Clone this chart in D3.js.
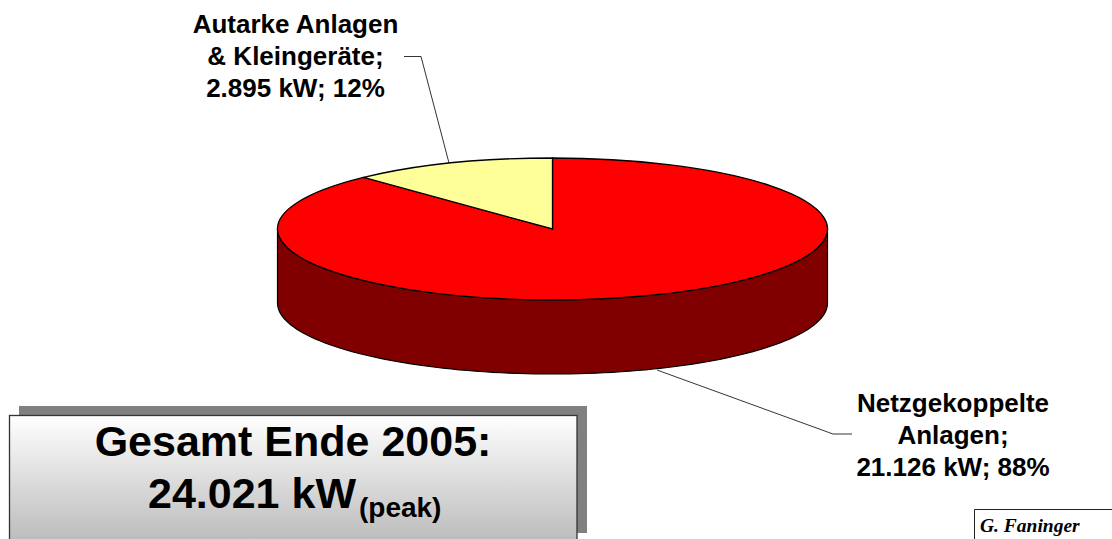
<!DOCTYPE html>
<html><head><meta charset="utf-8">
<script src="https://cdnjs.cloudflare.com/ajax/libs/d3/7.8.5/d3.min.js"></script>
<style>html,body{margin:0;padding:0;background:#fff;overflow:hidden}svg{display:block}</style></head>
<body><svg id="c" width="1112" height="539"></svg>
<script>
const categories = ["Netzgekoppelte Anlagen", "Autarke Anlagen & Kleingeräte"];
const values = [21126, 2895];
const topColors = ["#ff0000", "#ffff99"];
const sideColor = "#800000";
const labelLines = [
  ["Netzgekoppelte", "Anlagen;", "21.126 kW; 88%"],
  ["Autarke Anlagen", "& Kleingeräte;", "2.895 kW; 12%"]
];
const titleLine1 = "Gesamt Ende 2005:";
const titleLine2 = "24.021 kW";
const titleSub = "(peak)";
const credit = "G. Faninger";

const cx = 552.5, cy = 229, rx = 275, ry = 71, depth = 74;
const font = "'Liberation Sans', Arial, sans-serif";
const svg = d3.select("#c");

const defs = svg.append("defs");
const grad = defs.append("linearGradient").attr("id", "boxGrad").attr("x1", 0).attr("y1", 0).attr("x2", 0).attr("y2", 1);
grad.append("stop").attr("offset", 0).attr("stop-color", "#ffffff");
grad.append("stop").attr("offset", 1).attr("stop-color", "#b4b4b4");

// Big slice first, clockwise from 12 o'clock, so the small slice ends at 12 o'clock
const pie = d3.pie().sort(null).startAngle(0).endAngle(2 * Math.PI);
const arcs = pie(values);
const arc = d3.arc().innerRadius(0).outerRadius(rx);

// Side wall, from the ellipse lower half
const a = d3.scaleLinear().domain([0, 1]).range([Math.PI / 2, 3 * Math.PI / 2]);
const wall = d3.range(0, 1.0001, 0.01).map(t => [cx + rx * Math.sin(a(t)), cy - ry * Math.cos(a(t))]);
const wallPath = d3.line()(wall) + "L" + d3.line()(wall.slice().reverse().map(p => [p[0], p[1] + depth])).slice(1) + "Z";
svg.append("path").attr("d", wallPath).attr("fill", sideColor).attr("stroke", "#000").attr("stroke-width", 1.2);

// Top face
const topFace = svg.append("g").attr("transform", `translate(${cx},${cy}) scale(1,${ry / rx})`);
topFace.selectAll("path").data(arcs).join("path")
  .attr("d", arc)
  .attr("fill", (d, i) => topColors[i])
  .attr("stroke", "#000").attr("stroke-width", 1.3)
  .attr("stroke-linejoin", "miter")
  .attr("vector-effect", "non-scaling-stroke");

// Leader lines
const leaders = [
  [[657, 370], [833, 434], [852, 434]],
  [[404, 56.5], [421, 56.5], [449, 163]]
];
svg.selectAll("path.leader").data(leaders).join("path").attr("class", "leader")
  .attr("d", d => d3.line()(d)).attr("fill", "none").attr("stroke", "#000").attr("stroke-width", 0.8);

// Labels
const labelPos = [{x: 953, y: 412}, {x: 295.5, y: 33}];
const lh = 32;
labelLines.forEach((lines, i) => {
  const t = svg.append("text").attr("text-anchor", "middle").attr("font-family", font).attr("font-weight", "bold").attr("font-size", 26).attr("fill", "#000");
  lines.forEach((l, j) => t.append("tspan").attr("x", labelPos[i].x).attr("y", labelPos[i].y + j * lh).text(l));
});

// Title box
svg.append("rect").attr("x", 19).attr("y", 406).attr("width", 568).attr("height", 127).attr("fill", "#808080");
svg.append("rect").attr("x", 9.5).attr("y", 415.5).attr("width", 567.5).attr("height", 140).attr("fill", "url(#boxGrad)").attr("stroke", "#333").attr("stroke-width", 1.3);
svg.append("text").attr("x", 293).attr("y", 456).attr("text-anchor", "middle").attr("font-family", font).attr("font-weight", "bold").attr("font-size", 43).text(titleLine1);
const t2 = svg.append("text").attr("x", 148).attr("y", 508).attr("font-family", font).attr("font-weight", "bold").attr("font-size", 43);
t2.append("tspan").text(titleLine2);
t2.append("tspan").attr("font-size", 28).attr("dx", 3).attr("dy", 9).text(titleSub);

// Credit box
svg.append("path").attr("d", "M974.5,545V509.5H1120").attr("fill", "none").attr("stroke", "#222").attr("stroke-width", 1);
svg.append("text").attr("x", 980).attr("y", 532).attr("font-family", "'Liberation Serif', serif").attr("font-style", "italic").attr("font-weight", "bold").attr("font-size", 19.5).text(credit);
</script></body></html>
